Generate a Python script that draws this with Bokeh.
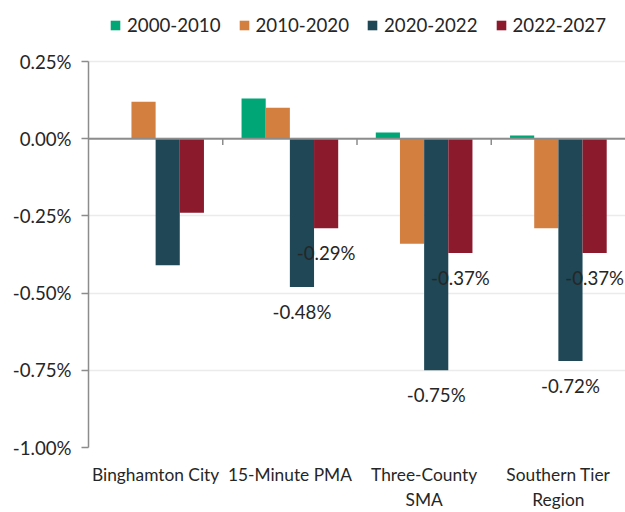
import numpy as np
from bokeh.plotting import figure
from bokeh.models import (ColumnDataSource, FactorRange, Range1d, FixedTicker,
                          PrintfTickFormatter, Legend, LegendItem, Span)
from bokeh.transform import dodge
from bokeh.core.properties import value
from bokeh.embed import file_html
from bokeh.resources import INLINE

categories = ["Binghamton City", "15-Minute PMA", "Three-County\nSMA", "Southern Tier\nRegion"]
series = ["2000-2010", "2010-2020", "2020-2022", "2022-2027"]
v_2000_2010 = [np.nan, 0.13, 0.02, 0.01]
v_2010_2020 = [0.12, 0.10, -0.34, -0.29]
v_2020_2022 = [-0.41, -0.48, -0.75, -0.72]
v_2022_2027 = [-0.24, -0.29, -0.37, -0.37]
labelled = [False, True, True, True]
y_ticks = [-1.0, -0.75, -0.5, -0.25, 0.0, 0.25]
y_lo, y_hi = -1.0, 0.25

colors = ["#00A676", "#D37F40", "#1F4756", "#8B1A2C"]
FONT = "Lato"
FS = "14pt"
TXT = "#262626"

W, H = 625, 512
TOP_PAD, BOTTOM = 61, 65
frame_h = H - TOP_PAD - BOTTOM
y_end = y_hi + TOP_PAD * (y_hi - y_lo) / frame_h  # room for the legend inside the frame

src = ColumnDataSource(dict(cat=categories, a=v_2000_2010, b=v_2010_2020,
                            c=v_2020_2022, d=v_2022_2027))

p = figure(x_range=FactorRange(*categories, range_padding=0), y_range=Range1d(y_lo, y_end),
           width=W, height=H, output_backend="svg", toolbar_location=None,
           min_border_left=88, min_border_right=0, min_border_top=0, min_border_bottom=BOTTOM)
p.outline_line_color = None

offsets = [-0.27, -0.09, 0.09, 0.27]
cols = ["a", "b", "c", "d"]
renderers = []
for col, off, colr in zip(cols, offsets, colors):
    r = p.vbar(x=dodge("cat", off, range=p.x_range), top=col, bottom=0, width=0.18,
               source=src, fill_color=colr, line_color=None)
    renderers.append(r)

# zero axis line and boundary ticks
p.add_layout(Span(location=0, dimension="width", line_color="#8c8c8c", line_width=2))
bounds = list(range(1, len(categories)))
p.segment(x0=bounds, x1=bounds, y0=[0] * len(bounds), y1=[-0.02] * len(bounds),
          line_color="#8c8c8c", line_width=1.5)

# data labels
lab_c = [f"{v:.2f}%" if s else "" for v, s in zip(v_2020_2022, labelled)]
lab_d = [f"{v:.2f}%" if s else "" for v, s in zip(v_2022_2027, labelled)]
lsrc = ColumnDataSource(dict(cat=categories, c=v_2020_2022, d=v_2022_2027, lc=lab_c, ld=lab_d))
for col, lab, off in [("c", "lc", 0.09), ("d", "ld", 0.27)]:
    p.text(x=dodge("cat", off, range=p.x_range), y=col, text=lab, source=lsrc,
           text_align="center", text_baseline="middle", y_offset=25,
           text_font=value(FONT), text_font_size=FS, text_color=TXT)

# axes
p.yaxis.ticker = FixedTicker(ticks=y_ticks)
p.yaxis.bounds = (y_lo, y_hi)
p.yaxis.formatter = PrintfTickFormatter(format="%.2f%%")
p.yaxis.major_label_text_font = FONT
p.yaxis.major_label_text_font_size = FS
p.yaxis.major_label_text_color = TXT
p.yaxis.axis_line_color = "#8c8c8c"
p.yaxis.axis_line_width = 1.5
p.yaxis.major_tick_line_color = "#8c8c8c"
p.yaxis.major_tick_line_width = 1.5
p.yaxis.major_tick_out = 7
p.yaxis.major_tick_in = 0
p.yaxis.minor_tick_line_color = None
p.yaxis.major_label_standoff = 10

p.xaxis.axis_line_color = None
p.xaxis.major_tick_line_color = None
p.xaxis.minor_tick_line_color = None
p.xaxis.major_label_text_font = FONT
p.xaxis.major_label_text_font_size = "13pt"
p.xaxis.major_label_text_color = TXT
p.xaxis.major_label_standoff = 10

p.xgrid.grid_line_color = None
p.ygrid.grid_line_color = "#ebebeb"
p.ygrid.grid_line_width = 1.5

legend = Legend(items=[LegendItem(label=s, renderers=[r]) for s, r in zip(series, renderers)],
                orientation="horizontal", location=(21, frame_h + TOP_PAD - 36),
                glyph_width=12, glyph_height=12, label_standoff=6, spacing=17,
                padding=0, margin=0, border_line_color=None, background_fill_alpha=0,
                label_text_font=FONT, label_text_font_size=FS, label_text_color=TXT)
p.add_layout(legend)

open("out.html", "w").write(file_html(p, INLINE))
